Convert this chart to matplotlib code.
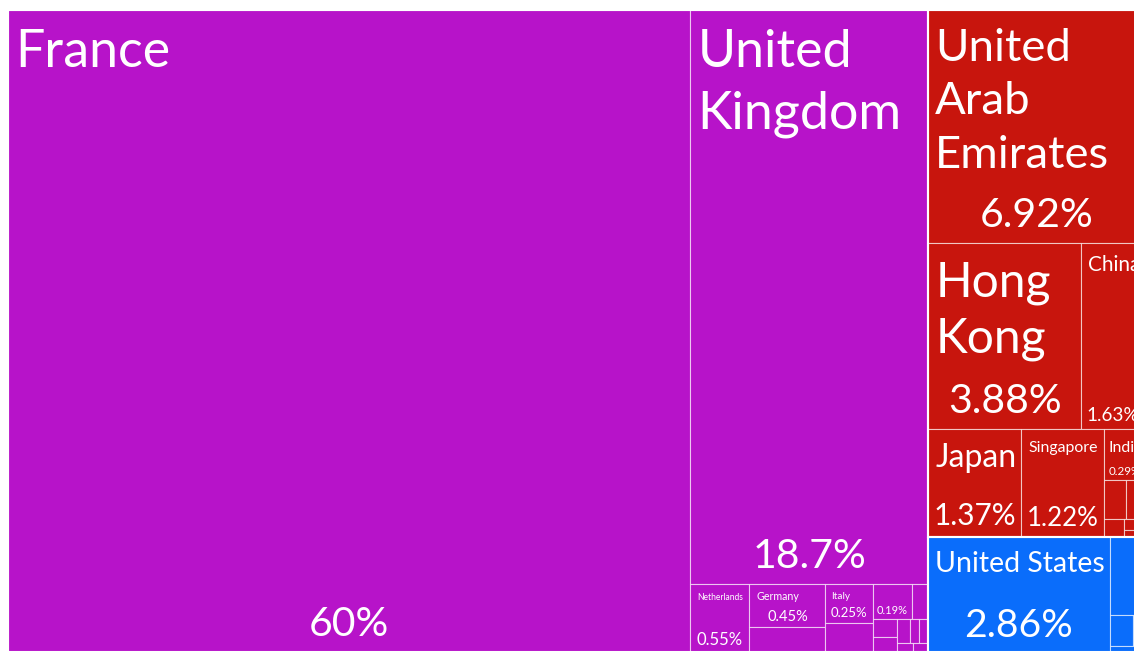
import matplotlib
matplotlib.use('Agg')
import matplotlib.pyplot as plt
from matplotlib.patches import Rectangle
from matplotlib.textpath import TextPath
from matplotlib.font_manager import FontProperties

# export share by destination, % (small ones estimated)
europe_names = ['France', 'United Kingdom', 'Netherlands', 'Germany', 'Spain', 'Italy',
                'Belgium', 'Switzerland', 'Sweden', 'Ireland', 'Poland', 'Denmark',
                'Austria', 'Portugal', 'Norway', 'Greece']
europe_vals = [60.0, 18.7, 0.55, 0.45, 0.26, 0.25, 0.19, 0.19, 0.08, 0.06, 0.05, 0.04,
               0.03, 0.03, 0.02, 0.02]
asia_names = ['United Arab Emirates', 'Hong Kong', 'China', 'Japan', 'Singapore', 'India',
              'South Korea', 'Saudi Arabia', 'Qatar', 'Thailand', 'Israel']
asia_vals = [6.92, 3.88, 1.63, 1.37, 1.22, 0.29, 0.12, 0.1, 0.05, 0.03, 0.02]
america_names = ['United States', 'Canada', 'Mexico', 'Brazil', 'Chile']
america_vals = [2.86, 0.38, 0.1, 0.05, 0.03]

continents = [('Europe', europe_names, europe_vals, '#b713c9'),
              ('Asia', asia_names, asia_vals, '#c8150d'),
              ('Americas', america_names, america_vals, '#0a6dfb')]

W, H, DPI = 1134, 652, 100
FONT = 'Lato'
NAME_MAX = 52
PCT_MAX = 41
PHI = (1 + 5 ** 0.5) / 2
prop = FontProperties(family=FONT)


def squarify(values, x0, y0, x1, y1):
    # same row rule as d3.treemapSquarify (golden ratio)
    rects = []
    total = sum(values)
    n = len(values)
    i0 = i1 = 0
    while i0 < n:
        dx, dy = x1 - x0, y1 - y0
        s = values[i1]
        i1 += 1
        vmin = vmax = s
        alpha = max(dy / dx, dx / dy) / (total * PHI)
        beta = s * s * alpha
        best = max(vmax / beta, beta / vmin)
        while i1 < n:
            v = values[i1]
            beta = (s + v) ** 2 * alpha
            r = max(max(vmax, v) / beta, beta / min(vmin, v))
            if r > best:
                break
            s += v
            vmin, vmax, best = min(vmin, v), max(vmax, v), r
            i1 += 1
        if dx < dy:
            yb = y0 + dy * s / total if i1 < n else y1
            xx = x0
            for v in values[i0:i1]:
                xn = xx + dx * v / s
                rects.append((xx, y0, xn, yb))
                xx = xn
            y0 = yb
        else:
            xb = x0 + dx * s / total if i1 < n else x1
            yy = y0
            for v in values[i0:i1]:
                yn = yy + dy * v / s
                rects.append((x0, yy, xb, yn))
                yy = yn
            x0 = xb
        total -= s
        i0 = i1
    return rects


def tw(s):
    return TextPath((0, 0), s, size=100, prop=prop).get_extents().width / 100


def wrap(words, fs, avail):
    lines = [words[0]]
    for wd in words[1:]:
        if tw(lines[-1] + ' ' + wd) * fs <= avail:
            lines[-1] += ' ' + wd
        else:
            lines.append(wd)
    return lines


def label(ax, x0, y0, x1, y1, name, val):
    w, h = x1 - x0, y1 - y0
    if w < 37 or h < 30:
        return
    pad = min(7, 0.12 * w)
    avail = w - 2 * pad
    pct = f'{val:.3g}%'
    pfs = min(PCT_MAX, 0.34 * h, avail / tw(pct))
    words = name.split()
    nfs = min(NAME_MAX, avail / max(tw(wd) for wd in words))
    lines = []
    while nfs >= 6:
        lines = wrap(words, nfs, avail)
        if len(lines) * 1.17 * nfs + 1.6 * pfs + pad <= h:
            break
        nfs -= 0.5
    if nfs >= 6:
        for i, ln in enumerate(lines):
            ax.text(x0 + pad, y0 + min(8, 0.15 * h) + nfs * (0.95 + 1.17 * i), ln,
                    color='white', fontsize=nfs * 72 / DPI, family=FONT,
                    va='baseline', ha='left')
    ax.text((x0 + x1) / 2, y1 - 0.36 * pfs - 1, pct, color='white',
            fontsize=pfs * 72 / DPI, family=FONT, va='baseline', ha='center')


fig = plt.figure(figsize=(W / DPI, H / DPI), dpi=DPI)
ax = fig.add_axes([0, 0, 1, 1])
ax.set_xlim(0, W)
ax.set_ylim(H, 0)
ax.axis('off')

totals = [sum(c[2]) for c in continents]
boxes = squarify(totals, 8, 10, 1145, 652)
for (cname, names, vals, color), (cx0, cy0, cx1, cy1) in zip(continents, boxes):
    for name, val, (x0, y0, x1, y1) in zip(names, vals, squarify(vals, cx0, cy0, cx1, cy1)):
        ax.add_patch(Rectangle((x0, y0), x1 - x0, y1 - y0, facecolor=color,
                               edgecolor=(1, 1, 1, 0.6), lw=0.8))
        label(ax, x0, y0, x1, y1, name, val)
    ax.add_patch(Rectangle((cx0, cy0), cx1 - cx0, cy1 - cy0, facecolor='none',
                           edgecolor='white', lw=1.5))

fig.savefig('out.png', dpi=DPI, facecolor='white')
